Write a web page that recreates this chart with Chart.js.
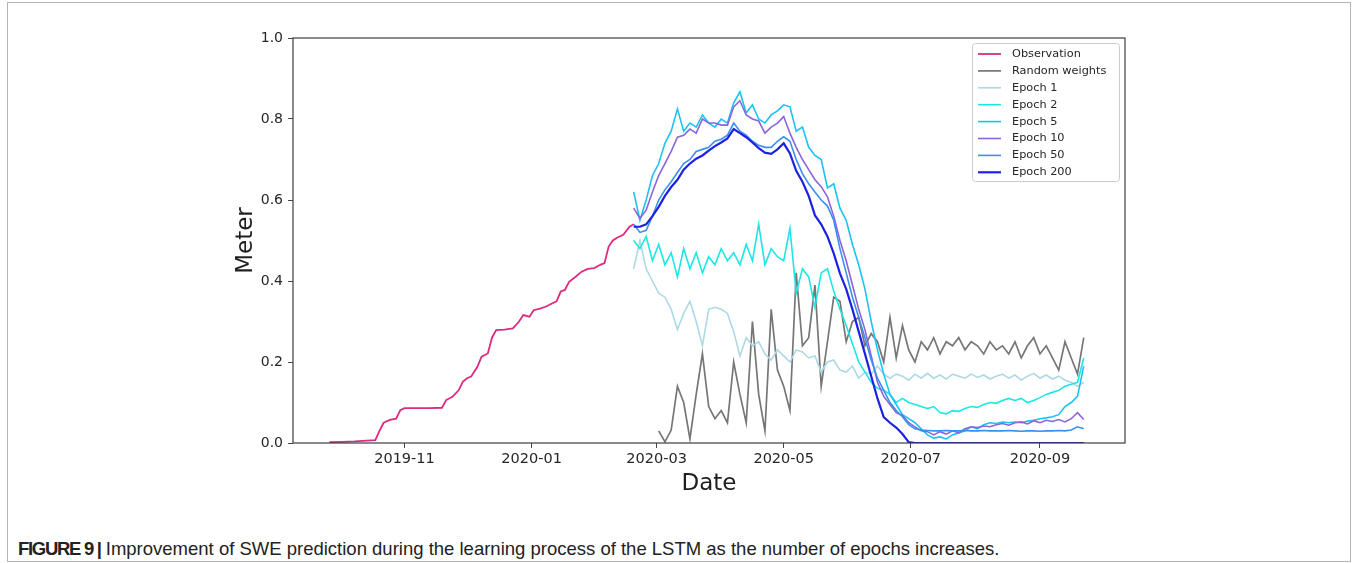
<!DOCTYPE html>
<html>
<head>
<meta charset="utf-8">
<script src="https://cdn.jsdelivr.net/npm/chart.js@4.4.0/dist/chart.umd.min.js"></script>
<style>
body { margin: 0; background: #fff; width: 1357px; height: 563px; position: relative; overflow: hidden; }
#frame { position: absolute; left: 7px; top: 2px; width: 1342px; height: 558px; border: 1px solid #b4b4b4; }
#chart { position: absolute; left: 0; top: 0; }
#caption { position: absolute; left: 18px; top: 539px; font-family: 'Liberation Sans', Arial, sans-serif; font-size: 18.5px; line-height: 20px; color: #222; white-space: nowrap; }
#caption b { letter-spacing: -1.3px; }
</style>
</head>
<body>
<div id="frame"></div>
<canvas id="chart" width="1357" height="500"></canvas>
<div id="caption"><b>FIGURE 9 |</b> Improvement of SWE prediction during the learning process of the LSTM as the number of epochs increases.</div>
<script>
// days counted from 2019-11-01
const tickDays = [0, 61, 121, 182, 243, 305];
const tickLabels = ['2019-11', '2020-01', '2020-03', '2020-05', '2020-07', '2020-09'];

const obsDays = [-36, -30, -24, -18, -14, -12, -10, -7, -4, -2, 0, 6, 12, 18, 20, 23, 26, 28, 30, 32,
    35, 37, 40, 42, 44, 48, 52, 55, 57, 60, 62, 65, 68, 71, 73, 75, 77, 79, 82, 85,
    88, 91, 94, 96, 98, 100, 102, 105, 108, 110];
const obsValues = [0.002, 0.003, 0.004, 0.006, 0.007, 0.030, 0.050, 0.057, 0.060, 0.081, 0.086, 0.086, 0.086, 0.087, 0.106, 0.114, 0.130, 0.151, 0.160, 0.164,
    0.188, 0.213, 0.221, 0.260, 0.279, 0.280, 0.283, 0.300, 0.316, 0.312, 0.328, 0.332, 0.337, 0.345, 0.350, 0.374, 0.378, 0.398, 0.410, 0.423,
    0.430, 0.432, 0.440, 0.444, 0.485, 0.500, 0.507, 0.514, 0.534, 0.540];

// model outputs, one value every 3 days from day 110
const modelDays = [];
for (let d = 110; d <= 326; d += 3) modelDays.push(d);

const randomWeights = [null, null, null, null, 0.030, 0.003, 0.032, 0.140, 0.100, 0.010,
    0.120, 0.220, 0.090, 0.060, 0.080, 0.050, 0.200, 0.120, 0.050, 0.300,
    0.120, 0.030, 0.330, 0.180, 0.140, 0.080, 0.420, 0.240, 0.260, 0.390,
    0.140, 0.250, 0.360, 0.350, 0.250, 0.300, 0.310, 0.240, 0.270, 0.250,
    0.200, 0.310, 0.210, 0.290, 0.230, 0.200, 0.250, 0.230, 0.260, 0.220,
    0.250, 0.240, 0.260, 0.230, 0.250, 0.240, 0.220, 0.250, 0.230, 0.240,
    0.220, 0.250, 0.210, 0.240, 0.260, 0.220, 0.240, 0.210, 0.180, 0.250,
    0.210, 0.170, 0.260];
const epoch1 = [0.430, 0.500, 0.430, 0.400, 0.370, 0.360, 0.330, 0.280, 0.320, 0.350,
    0.300, 0.240, 0.330, 0.335, 0.330, 0.320, 0.275, 0.215, 0.260, 0.240,
    0.250, 0.220, 0.205, 0.230, 0.215, 0.200, 0.230, 0.225, 0.210, 0.215,
    0.175, 0.200, 0.205, 0.180, 0.175, 0.190, 0.160, 0.175, 0.170, 0.190,
    0.170, 0.160, 0.170, 0.165, 0.155, 0.170, 0.160, 0.172, 0.160, 0.168,
    0.158, 0.170, 0.165, 0.160, 0.170, 0.162, 0.168, 0.158, 0.165, 0.170,
    0.160, 0.168, 0.155, 0.165, 0.172, 0.160, 0.168, 0.158, 0.165, 0.155,
    0.150, 0.140, 0.150];
const epoch2 = [0.500, 0.480, 0.510, 0.450, 0.490, 0.440, 0.470, 0.410, 0.480, 0.430,
    0.470, 0.420, 0.460, 0.440, 0.480, 0.450, 0.470, 0.440, 0.490, 0.450,
    0.540, 0.440, 0.480, 0.460, 0.450, 0.530, 0.370, 0.430, 0.410, 0.335,
    0.420, 0.430, 0.375, 0.330, 0.290, 0.245, 0.200, 0.175, 0.150, 0.135,
    0.130, 0.120, 0.100, 0.110, 0.100, 0.095, 0.090, 0.085, 0.090, 0.075,
    0.072, 0.080, 0.078, 0.085, 0.090, 0.088, 0.095, 0.100, 0.098, 0.105,
    0.110, 0.105, 0.110, 0.100, 0.105, 0.112, 0.120, 0.125, 0.130, 0.140,
    0.145, 0.150, 0.210];
const epoch5 = [0.620, 0.550, 0.600, 0.660, 0.690, 0.740, 0.770, 0.825, 0.770, 0.790,
    0.780, 0.810, 0.790, 0.780, 0.800, 0.790, 0.840, 0.867, 0.815, 0.835,
    0.800, 0.790, 0.810, 0.820, 0.835, 0.830, 0.770, 0.780, 0.730, 0.710,
    0.700, 0.630, 0.640, 0.580, 0.550, 0.490, 0.440, 0.380, 0.300, 0.230,
    0.170, 0.120, 0.095, 0.070, 0.060, 0.050, 0.035, 0.020, 0.012, 0.015,
    0.010, 0.020, 0.025, 0.030, 0.040, 0.035, 0.045, 0.050, 0.048, 0.052,
    0.050, 0.052, 0.050, 0.054, 0.056, 0.060, 0.062, 0.065, 0.070, 0.090,
    0.100, 0.115, 0.190];
const epoch10 = [0.580, 0.555, 0.575, 0.620, 0.660, 0.690, 0.720, 0.755, 0.760, 0.775,
    0.765, 0.800, 0.790, 0.790, 0.785, 0.785, 0.830, 0.845, 0.810, 0.800,
    0.795, 0.765, 0.780, 0.790, 0.806, 0.765, 0.730, 0.700, 0.675, 0.650,
    0.633, 0.608, 0.560, 0.500, 0.450, 0.390, 0.330, 0.280, 0.215, 0.150,
    0.115, 0.095, 0.075, 0.068, 0.050, 0.040, 0.030, 0.028, 0.020, 0.028,
    0.022, 0.030, 0.025, 0.035, 0.040, 0.038, 0.042, 0.040, 0.045, 0.048,
    0.044, 0.050, 0.052, 0.047, 0.055, 0.050, 0.056, 0.053, 0.058, 0.052,
    0.060, 0.075, 0.058];
const epoch50 = [0.540, 0.520, 0.525, 0.560, 0.600, 0.625, 0.645, 0.668, 0.690, 0.700,
    0.720, 0.725, 0.730, 0.745, 0.750, 0.760, 0.790, 0.770, 0.760, 0.745,
    0.735, 0.730, 0.730, 0.745, 0.756, 0.745, 0.700, 0.665, 0.640, 0.620,
    0.600, 0.585, 0.550, 0.480, 0.420, 0.360, 0.310, 0.260, 0.205, 0.160,
    0.130, 0.100, 0.080, 0.065, 0.045, 0.035, 0.032, 0.031, 0.030, 0.030,
    0.031, 0.030, 0.030, 0.031, 0.030, 0.030, 0.031, 0.030, 0.030, 0.030,
    0.031, 0.030, 0.029, 0.030, 0.030, 0.029, 0.030, 0.030, 0.031, 0.030,
    0.032, 0.040, 0.035];
const epoch200 = [0.534, 0.534, 0.540, 0.560, 0.583, 0.610, 0.632, 0.650, 0.675, 0.690,
    0.702, 0.710, 0.722, 0.733, 0.742, 0.752, 0.775, 0.765, 0.755, 0.742,
    0.728, 0.717, 0.714, 0.725, 0.740, 0.715, 0.672, 0.645, 0.610, 0.562,
    0.540, 0.510, 0.468, 0.419, 0.380, 0.330, 0.275, 0.220, 0.165, 0.110,
    0.064, 0.050, 0.038, 0.022, 0.002, 0, 0, 0, 0, 0,
    0, 0, 0, 0, 0, 0, 0, 0, 0, 0,
    0, 0, 0, 0, 0, 0, 0, 0, 0, 0,
    0, 0, 0];

const series = [
    { label: 'Observation', days: obsDays, values: obsValues, color: '#dd2a80', width: 1.8 },
    { label: 'Random weights', days: modelDays, values: randomWeights, color: '#767676', width: 1.7 },
    { label: 'Epoch 1', days: modelDays, values: epoch1, color: '#add8e6', width: 1.6 },
    { label: 'Epoch 2', days: modelDays, values: epoch2, color: '#1de6e6', width: 1.6 },
    { label: 'Epoch 5', days: modelDays, values: epoch5, color: '#1bc3f2', width: 1.6 },
    { label: 'Epoch 10', days: modelDays, values: epoch10, color: '#8a66d8', width: 1.6 },
    { label: 'Epoch 50', days: modelDays, values: epoch50, color: '#3a8ff0', width: 1.6 },
    { label: 'Epoch 200', days: modelDays, values: epoch200, color: '#1e22e0', width: 2.2 }
];

const frameAndLabels = {
    id: 'frameAndLabels',
    afterDraw(chart) {
        const { ctx, chartArea: a } = chart;
        ctx.save();
        ctx.strokeStyle = '#3c3c3c';
        ctx.lineWidth = 1.2;
        ctx.strokeRect(a.left, a.top, a.right - a.left, a.bottom - a.top);

        ctx.fillStyle = '#1e1e1e';
        ctx.font = '23px "DejaVu Sans"';
        ctx.textAlign = 'center';
        ctx.textBaseline = 'alphabetic';
        ctx.fillText('Date', (a.left + a.right) / 2, 490);
        ctx.translate(252, (a.top + a.bottom) / 2);
        ctx.rotate(-Math.PI / 2);
        ctx.fillText('Meter', 0, 0);
        ctx.restore();

        // legend box, upper right
        const bx = 972, by = 43, bw = 147, bh = 138, row = 16.9;
        ctx.save();
        ctx.fillStyle = 'rgba(255,255,255,0.9)';
        ctx.strokeStyle = '#cccccc';
        ctx.lineWidth = 1;
        ctx.beginPath();
        ctx.roundRect(bx + 0.5, by + 0.5, bw, bh, 3);
        ctx.fill();
        ctx.stroke();
        ctx.font = '11.3px "DejaVu Sans"';
        ctx.textBaseline = 'middle';
        ctx.textAlign = 'left';
        series.forEach((s, i) => {
            const y = by + 11 + i * row;
            ctx.strokeStyle = s.color;
            ctx.lineWidth = s.width;
            ctx.beginPath();
            ctx.moveTo(978, y);
            ctx.lineTo(1001, y);
            ctx.stroke();
            ctx.fillStyle = '#262626';
            ctx.fillText(s.label, 1012, y);
        });
        ctx.restore();
    }
};

const ctx = document.getElementById('chart').getContext('2d');
new Chart(ctx, {
    type: 'line',
    data: {
        datasets: series.map((s, i) => ({
            label: s.label,
            data: s.days.map((d, j) => ({ x: d, y: s.values[j] })),
            borderColor: s.color,
            borderWidth: s.width,
            pointRadius: 0,
            tension: 0,
            fill: false,
            order: series.length - i
        }))
    },
    options: {
        responsive: false,
        devicePixelRatio: 1,
        animation: false,
        layout: { padding: { left: 0, top: 38, right: 232, bottom: 0 } },
        plugins: { legend: { display: false }, tooltip: { enabled: false } },
        scales: {
            x: {
                type: 'linear',
                min: -53.5,
                max: 345.8,
                afterFit: s => { s.height = 57; },
                afterBuildTicks: s => { s.ticks = tickDays.map(v => ({ value: v })); },
                grid: { drawOnChartArea: false, drawTicks: true, tickLength: 5, color: '#444' },
                border: { display: false },
                ticks: {
                    padding: 3,
                    maxRotation: 0,
                    color: '#262626',
                    font: { family: 'DejaVu Sans', size: 14.5 },
                    callback: v => {
                        const i = tickDays.indexOf(v);
                        return i >= 0 ? tickLabels[i] : '';
                    }
                }
            },
            y: {
                min: 0,
                max: 1,
                afterFit: s => { s.width = 293; },
                grid: { drawOnChartArea: false, drawTicks: true, tickLength: 5, color: '#444' },
                border: { display: false },
                ticks: {
                    stepSize: 0.2,
                    padding: 5,
                    color: '#262626',
                    font: { family: 'DejaVu Sans', size: 14 },
                    callback: v => v.toFixed(1)
                }
            }
        }
    },
    plugins: [frameAndLabels]
});
</script>
</body>
</html>
